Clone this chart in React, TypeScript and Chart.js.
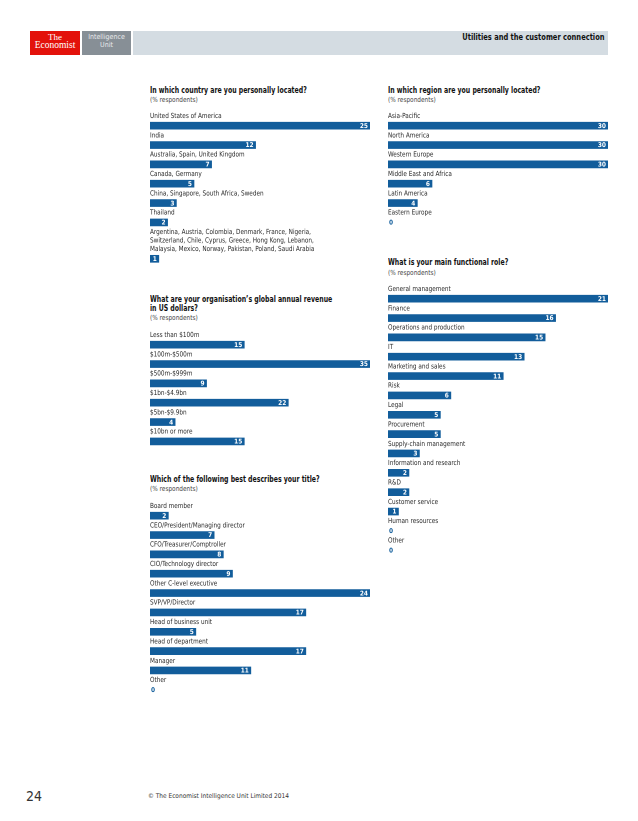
import React, { useEffect, useRef } from "react";
import Chart from "chart.js/auto";

const FONT = '"DejaVu Sans Condensed", "Liberation Sans", sans-serif';
const BLUE = "#125d9b";

// ---- data ----
const countryLabels: string[][] = [
  ["United States of America"],
  ["India"],
  ["Australia, Spain, United Kingdom"],
  ["Canada, Germany"],
  ["China, Singapore, South Africa, Sweden"],
  ["Thailand"],
  [
    "Argentina, Austria, Colombia, Denmark, France, Nigeria,",
    "Switzerland, Chile, Cyprus, Greece, Hong Kong, Lebanon,",
    "Malaysia, Mexico, Norway, Pakistan, Poland, Saudi Arabia",
  ],
];
const countryValues = [25, 12, 7, 5, 3, 2, 1];

const regionLabels: string[][] = [
  ["Asia-Pacific"],
  ["North America"],
  ["Western Europe"],
  ["Middle East and Africa"],
  ["Latin America"],
  ["Eastern Europe"],
];
const regionValues = [30, 30, 30, 6, 4, 0];

const revenueLabels: string[][] = [
  ["Less than $100m"],
  ["$100m-$500m"],
  ["$500m-$999m"],
  ["$1bn-$4.9bn"],
  ["$5bn-$9.9bn"],
  ["$10bn or more"],
];
const revenueValues = [15, 35, 9, 22, 4, 15];

const titleLabels: string[][] = [
  ["Board member"],
  ["CEO/President/Managing director"],
  ["CFO/Treasurer/Comptroller"],
  ["CIO/Technology director"],
  ["Other C-level executive"],
  ["SVP/VP/Director"],
  ["Head of business unit"],
  ["Head of department"],
  ["Manager"],
  ["Other"],
];
const titleValues = [2, 7, 8, 9, 24, 17, 5, 17, 11, 0];

const roleLabels: string[][] = [
  ["General management"],
  ["Finance"],
  ["Operations and production"],
  ["IT"],
  ["Marketing and sales"],
  ["Risk"],
  ["Legal"],
  ["Procurement"],
  ["Supply-chain management"],
  ["Information and research"],
  ["R&D"],
  ["Customer service"],
  ["Human resources"],
  ["Other"],
];
const roleValues = [21, 16, 15, 13, 11, 6, 5, 5, 3, 2, 2, 1, 0, 0];

// ---- layout constants ----
const P = 19.35; // row pitch
const EXTRA = 0.44; // extra rows per additional label line
const PAD_TOP = 5;
const PAD_BOTTOM = 3;
const BAR_W = 220;
const LABEL_SX = 0.91;

function rowPositions(labels: string[][]): number[] {
  const pos: number[] = [];
  let p = 0;
  labels.forEach((l, i) => {
    if (i > 0) p += 1 + (l.length - 1) * EXTRA;
    pos.push(p);
  });
  return pos;
}

type BarProps = {
  labels: string[][];
  values: number[];
  left: number;
  firstBar: number;
};

function BarBlock({ labels, values, left, firstBar }: BarProps) {
  const ref = useRef<HTMLCanvasElement>(null);
  const pos = rowPositions(labels);
  const last = pos[pos.length - 1];
  const areaH = (last + 1) * P;
  const height = Math.ceil(PAD_TOP + areaH + PAD_BOTTOM);
  const top = firstBar - 0.5 * P - PAD_TOP;

  useEffect(() => {
    const labelPlugin = {
      id: "rowLabels",
      afterDatasetsDraw(chart: any) {
        const ctx = chart.ctx as CanvasRenderingContext2D;
        const meta = chart.getDatasetMeta(0);
        meta.data.forEach((bar: any, i: number) => {
          const { x, y, base } = bar.getProps(["x", "y", "base"], true);
          const lines = labels[i];
          ctx.save();
          ctx.font = `7px ${FONT}`;
          ctx.fillStyle = "#2a2a2a";
          ctx.textAlign = "left";
          ctx.textBaseline = "middle";
          lines.forEach((line, j) => {
            const off = 9.5 + (lines.length - 1 - j) * 8.6;
            ctx.save();
            ctx.translate(chart.chartArea.left, y - off);
            ctx.scale(LABEL_SX, 1);
            ctx.fillText(line, 0, 0);
            ctx.restore();
          });
          const v = values[i];
          ctx.font = `bold 6.5px ${FONT}`;
          if (v > 0) {
            ctx.fillStyle = "#ffffff";
            ctx.textAlign = "right";
            ctx.fillText(String(v), x - 2, y + 0.5);
          } else {
            ctx.fillStyle = BLUE;
            ctx.textAlign = "left";
            ctx.fillText(String(v), base + 1, y + 0.5);
          }
          ctx.restore();
        });
      },
    };

    const chart = new Chart(ref.current!, {
      type: "bar",
      data: {
        datasets: [
          {
            data: values.map((v, i) => ({ x: v, y: pos[i] })) as any,
            backgroundColor: (c: any) => (c.raw && c.raw.x === 0 ? "rgba(0,0,0,0)" : BLUE),
            borderWidth: 0,
            barThickness: 7,
          },
        ],
      },
      options: {
        indexAxis: "y",
        animation: false,
        responsive: false,
        devicePixelRatio: 2,
        layout: {
          padding: { top: PAD_TOP, bottom: height - PAD_TOP - areaH, left: 0, right: 0 },
        },
        scales: {
          x: { type: "linear", min: 0, max: Math.max(...values), display: false },
          y: { type: "linear", min: -0.5, max: last + 0.5, reverse: true, display: false, offset: false } as any,
        },
        plugins: { legend: { display: false }, tooltip: { enabled: false } },
      },
      plugins: [labelPlugin],
    });
    return () => chart.destroy();
  }, []);

  return (
    <canvas
      ref={ref}
      width={BAR_W}
      height={height}
      style={{ position: "absolute", left, top, width: BAR_W, height }}
    />
  );
}

function Text({
  x,
  cy,
  children,
  size = 7,
  bold = false,
  color = "#2a2a2a",
  lh = 9,
  family = FONT,
  sx = 1,
  right = false,
}: any) {
  return (
    <div
      style={{
        position: "absolute",
        left: right ? undefined : x,
        right: right ? 638 - x : undefined,
        top: cy - lh / 2,
        fontSize: size,
        lineHeight: `${lh}px`,
        fontWeight: bold ? "bold" : "normal",
        color,
        fontFamily: family,
        whiteSpace: "nowrap",
        transform: `scaleX(${sx})`,
        transformOrigin: right ? "right center" : "left center",
      }}
    >
      {children}
    </div>
  );
}

function BoxText({ left, width, cy, children, size, color, family }: any) {
  return (
    <div
      style={{
        position: "absolute",
        left,
        width,
        top: cy - 4.5,
        height: 9,
        lineHeight: "9px",
        fontSize: size,
        color,
        fontFamily: family,
        textAlign: "center",
        whiteSpace: "nowrap",
      }}
    >
      {children}
    </div>
  );
}

const SERIF = '"Liberation Serif", "DejaVu Serif", serif';

export default function App() {
  return (
    <div style={{ position: "absolute", left: 0, top: 0, width: 638, height: 821, background: "#fff", overflow: "hidden" }}>
      {/* header */}
      <div style={{ position: "absolute", left: 30, top: 30.5, width: 50, height: 24, background: "#e3120b" }} />
      <BoxText left={30} width={50} cy={37.5} size={9} color="#fff" family={SERIF}>The</BoxText>
      <BoxText left={30} width={50} cy={45.3} size={9.5} color="#fff" family={SERIF}>Economist</BoxText>
      <div style={{ position: "absolute", left: 82, top: 30.5, width: 49, height: 24, background: "#878f96" }} />
      <BoxText left={82} width={49} cy={37.5} size={7} color="#e8eaec" family={FONT}>Intelligence</BoxText>
      <BoxText left={82} width={49} cy={45.3} size={7} color="#e8eaec" family={FONT}>Unit</BoxText>
      <div style={{ position: "absolute", left: 133, top: 30.5, width: 475, height: 24, background: "#d4dce2" }} />
      <Text x={604.5} cy={37.5} size={8.5} bold color="#111" right sx={0.875}>
        Utilities and the customer connection
      </Text>

      {/* country */}
      <Text x={150} cy={90} size={8} bold color="#111" sx={0.86}>In which country are you personally located?</Text>
      <Text x={150} cy={100} size={7} color="#444" sx={0.92}>(% respondents)</Text>
      <BarBlock labels={countryLabels} values={countryValues} left={150} firstBar={125.7} />

      {/* region */}
      <Text x={388} cy={90} size={8} bold color="#111" sx={0.86}>In which region are you personally located?</Text>
      <Text x={388} cy={100} size={7} color="#444" sx={0.92}>(% respondents)</Text>
      <BarBlock labels={regionLabels} values={regionValues} left={388} firstBar={125.3} />

      {/* revenue */}
      <Text x={150} cy={299.3} size={8} bold color="#111" sx={0.86}>What are your organisation’s global annual revenue</Text>
      <Text x={150} cy={308} size={8} bold color="#111" sx={0.86}>in US dollars?</Text>
      <Text x={150} cy={318.7} size={7} color="#444" sx={0.92}>(% respondents)</Text>
      <BarBlock labels={revenueLabels} values={revenueValues} left={150} firstBar={344.3} />

      {/* title */}
      <Text x={150} cy={479.3} size={8} bold color="#111" sx={0.86}>Which of the following best describes your title?</Text>
      <Text x={150} cy={489.7} size={7} color="#444" sx={0.92}>(% respondents)</Text>
      <BarBlock labels={titleLabels} values={titleValues} left={150} firstBar={515.7} />

      {/* functional role */}
      <Text x={388} cy={262.3} size={8} bold color="#111" sx={0.86}>What is your main functional role?</Text>
      <Text x={388} cy={273.3} size={7} color="#444" sx={0.92}>(% respondents)</Text>
      <BarBlock labels={roleLabels} values={roleValues} left={388} firstBar={298.7} />

      {/* footer */}
      <Text x={26} cy={796} size={14} color="#333" lh={15}>24</Text>
      <Text x={148} cy={796.5} size={6.5} color="#333">© The Economist Intelligence Unit Limited 2014</Text>
    </div>
  );
}
